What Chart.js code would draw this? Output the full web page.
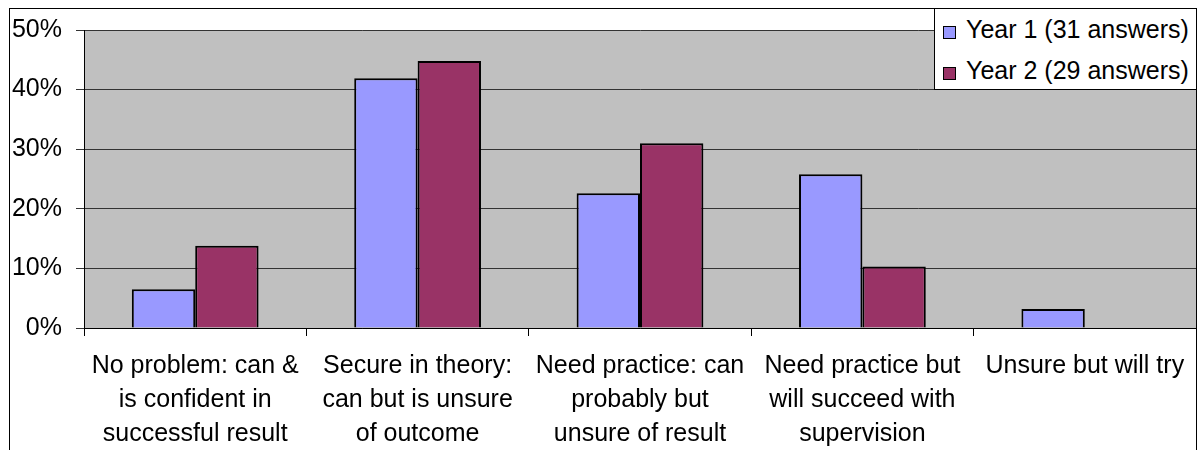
<!DOCTYPE html>
<html>
<head>
<meta charset="utf-8">
<script src="https://cdn.jsdelivr.net/npm/chart.js@4/dist/chart.umd.min.js"></script>
<style>
  body { margin: 0; background: #fff; }
  #wrap { position: relative; width: 1198px; height: 450px; overflow: hidden; font-family: "Liberation Sans", Arial, sans-serif; }
  #frame { position: absolute; left: 9px; top: 8px; width: 1188px; height: 470px; border: 1px solid #000; box-sizing: border-box; pointer-events: none; }
  #legend { position: absolute; left: 934px; top: 8px; width: 263px; height: 82px; border: 1px solid #000; box-sizing: border-box; background: #fff; }
  .row { position: absolute; left: 8px; font-size: 25px; line-height: 25px; color: #000; white-space: nowrap; }
  .sw { display: inline-block; width: 11px; height: 11px; border: 1px solid #000; margin-right: 10px; vertical-align: -1px; }
</style>
</head>
<body>
<div id="wrap">
  <canvas id="answersChart" width="1198" height="450"></canvas>
  <div id="legend"></div>
  <div id="frame"></div>
</div>
<script>
// Answer categories (one array of lines per category)
const categories = [
  ['No problem: can &', 'is confident in', 'successful result'],
  ['Secure in theory:', 'can but is unsure', 'of outcome'],
  ['Need practice: can', 'probably but', 'unsure of result'],
  ['Need practice but', 'will succeed with', 'supervision'],
  ['Unsure but will try']
];
const seriesNames = ['Year 1 (31 answers)', 'Year 2 (29 answers)'];
const seriesColors = ['#9999ff', '#993366'];

// Share of answers in percent
const year1 = [6.5, 41.9, 22.6, 25.8, 3.2];
const year2 = [13.8, 44.8, 31.0, 10.3, 0];

const yMax = 50;
const yStep = 10;

const fontFamily = '"Liberation Sans", Arial, sans-serif';

// grey plot area like the old spreadsheet charts
const plotBg = {
  id: 'plotBg',
  beforeDraw(chart) {
    const { ctx, chartArea: a } = chart;
    ctx.save();
    ctx.fillStyle = '#c0c0c0';
    ctx.fillRect(a.left, a.top, a.right - a.left, a.bottom - a.top);
    ctx.restore();
  }
};

const barBorder = c => (c.raw === 0 ? 0 : 2);

new Chart(document.getElementById('answersChart'), {
  type: 'bar',
  data: {
    labels: categories,
    datasets: [
      { label: seriesNames[0], data: year1, backgroundColor: seriesColors[0], borderColor: '#000', borderWidth: barBorder },
      { label: seriesNames[1], data: year2, backgroundColor: seriesColors[1], borderColor: '#000', borderWidth: barBorder }
    ]
  },
  options: {
    responsive: false,
    animation: false,
    devicePixelRatio: 1,
    categoryPercentage: 0.57,
    barPercentage: 1,
    layout: { padding: { top: 30, right: 2, left: 0, bottom: 0 } },
    plugins: {
      legend: { display: false },
      tooltip: { enabled: false }
    },
    scales: {
      x: {
        grid: { offset: true, drawOnChartArea: false, drawTicks: true, tickLength: 8, color: '#000' },
        border: { color: '#000', width: 1 },
        ticks: {
          color: '#000',
          autoSkip: false,
          maxRotation: 0,
          padding: 13,
          font: { family: fontFamily, size: 25, lineHeight: 1.36 }
        },
        afterFit(s) { s.height = 122; }
      },
      y: {
        min: 0,
        max: yMax,
        grid: { color: '#333', tickLength: 8 },
        border: { color: '#000', width: 1 },
        ticks: {
          stepSize: yStep,
          color: '#000',
          padding: 14,
          font: { family: fontFamily, size: 25 },
          callback: v => v + '%'
        },
        afterFit(s) { s.width = 84; }
      }
    }
  },
  plugins: [plotBg]
});

// legend box in the top right corner
const legend = document.getElementById('legend');
seriesNames.forEach((name, i) => {
  const row = document.createElement('div');
  row.className = 'row';
  row.style.top = (8 + i * 41) + 'px';
  const sw = document.createElement('span');
  sw.className = 'sw';
  sw.style.background = seriesColors[i];
  row.appendChild(sw);
  row.appendChild(document.createTextNode(name));
  legend.appendChild(row);
});
</script>
</body>
</html>
